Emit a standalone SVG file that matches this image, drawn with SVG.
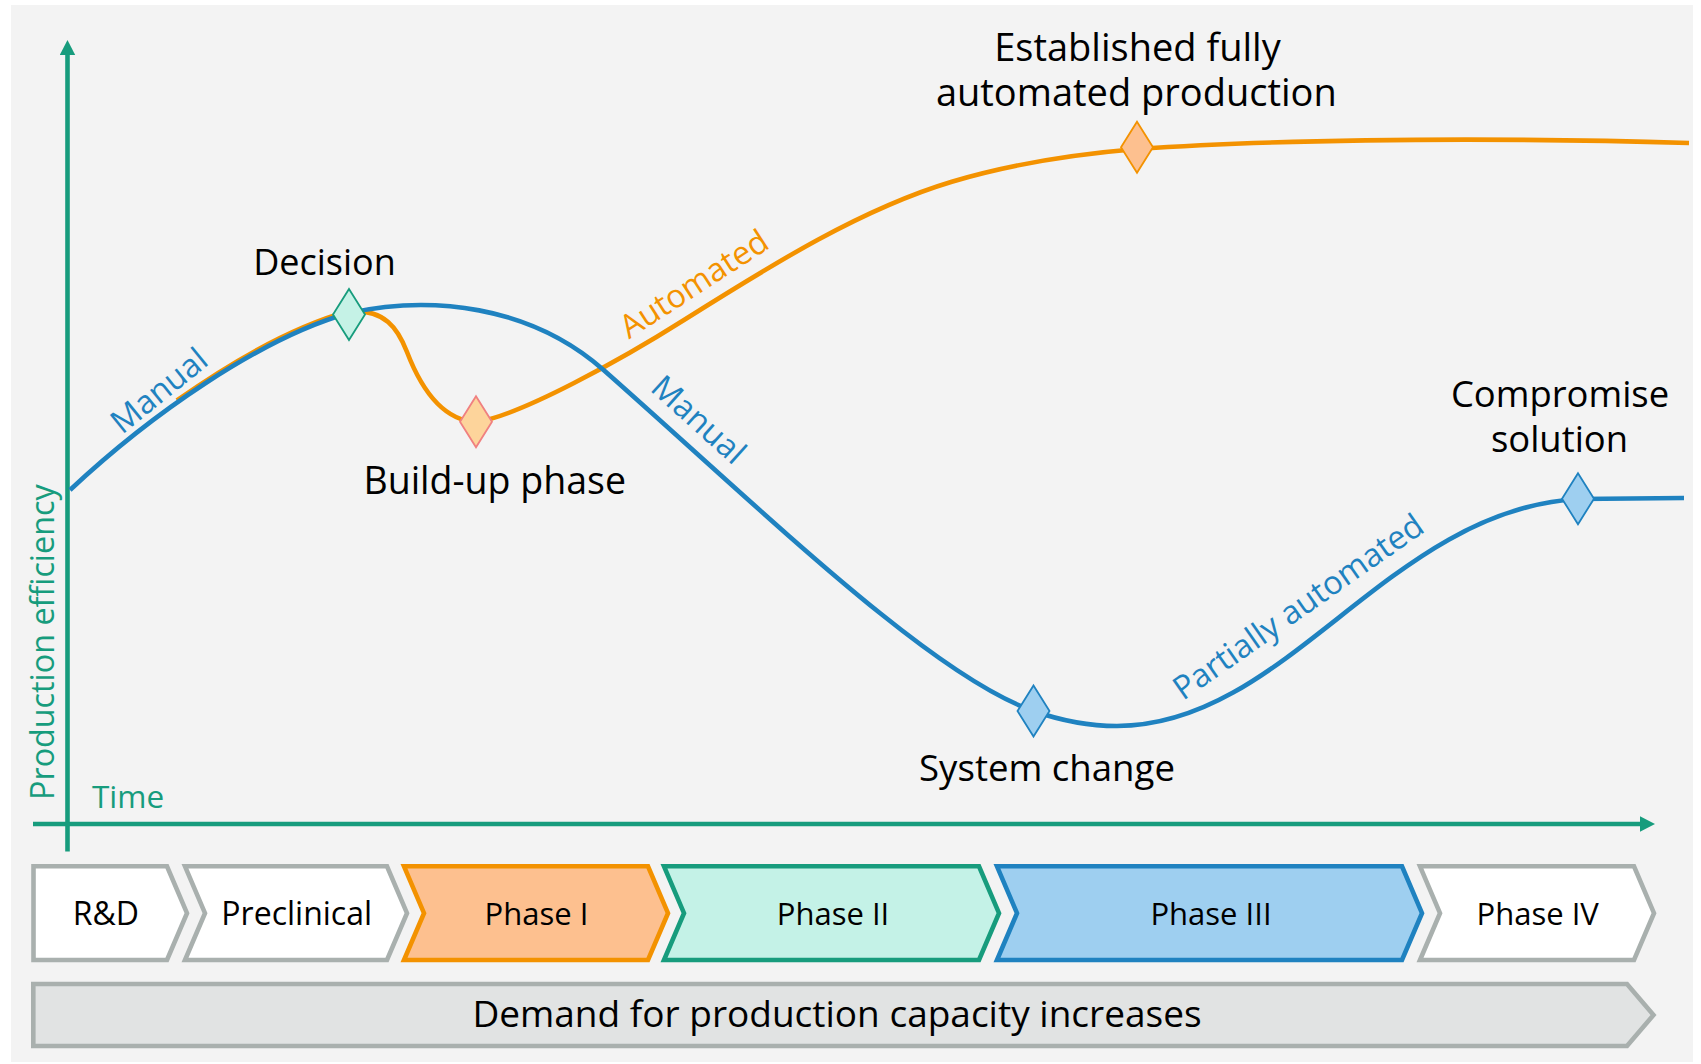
<svg xmlns="http://www.w3.org/2000/svg" xmlns:xlink="http://www.w3.org/1999/xlink" width="1701" height="1064" viewBox="0 0 1701 1064">
  <style>
    text { font-family: "Open Sans", "Noto Sans", "DejaVu Sans", sans-serif; }
    .lbl { font-size: 36px; fill: #000; text-anchor: middle; }
    .phase-lbl { font-size: 31px; fill: #000; text-anchor: middle; }
    .curve-lbl { font-size: 32.5px; }
    .axis { stroke: #179c7d; stroke-width: 4.6; fill: none; }
    .axis-lbl { fill: #179c7d; }
    .blue { stroke: #1f82c0; stroke-width: 4.6; fill: none; }
    .orange { stroke: #f39200; stroke-width: 4.6; fill: none; }
    .chev { stroke-width: 4.6; stroke-linejoin: miter; }
    .grey { fill: #ffffff; stroke: #a9b0ae; }
    .p1 { fill: #fdc08f; stroke: #f39200; }
    .p2 { fill: #c4f2e7; stroke: #179c7d; }
    .p3 { fill: #9ecff0; stroke: #1f82c0; }
    .dia { stroke-width: 1.8; stroke-linejoin: miter; }
  </style>
  <defs>
    <marker id="arrow" markerUnits="userSpaceOnUse" markerWidth="16" markerHeight="16" refX="2" refY="7.7" orient="auto">
      <path d="M0,0 L15,7.7 L0,15.4 Z" fill="#179c7d"/>
    </marker>
    <path id="diamond" d="M0,-25.5 L16,0 L0,25.5 L-16,0 Z"/>
  </defs>

  <!-- canvas -->
  <rect x="0" y="0" width="1701" height="1064" fill="#ffffff"/>
  <rect x="11" y="5" width="1682" height="1057" fill="#f3f3f3"/>

  <!-- axes -->
  <g id="axes">
    <line class="axis" x1="67.5" y1="851.5" x2="67.5" y2="53" marker-end="url(#arrow)"/>
    <line class="axis" x1="33" y1="824" x2="1642" y2="824" marker-end="url(#arrow)"/>
    <text class="axis-lbl" x="92" y="808" style="font-size:31.5px">Time</text>
    <text class="axis-lbl" style="font-size:32.3px" transform="translate(53.5,800) rotate(-90)">Production efficiency</text>
  </g>

  <!-- efficiency curves -->
  <g id="connectors">
    <path id="automated-curve" class="orange" d="M176.9,400.5 C234.6,359.7 295.6,326 349,311
      C385,309 398,328.6 407,352
      C417,378 438,420 476,422
      C520,416 624,358 684,320
      C774,263.3 861.8,208.7 951.8,181.7
      C1011.8,163.7 1077,154 1137,149
      C1250,141 1450,136 1689,143"/>
    <path id="manual-curve" class="blue" d="M70,490 C150,415 260,338 349,313
      C430,295 530,305 603.6,370
      C760,508 930,675 1033.5,711
      C1063.5,721.5 1090,726 1117,726
      C1287,726 1388,510 1578,499
      L1684,498"/>
    <text class="curve-lbl" fill="#1f82c0" transform="translate(122,435) rotate(-39)">Manual</text>
    <text class="curve-lbl" fill="#f39200" transform="translate(629,339.5) rotate(-33)">Automated</text>
    <text class="curve-lbl" fill="#1f82c0" transform="translate(649,390) rotate(42)">Manual</text>
    <text class="curve-lbl" fill="#1f82c0" transform="translate(1183,701) rotate(-35)">Partially automated</text>
  </g>

  <!-- milestones -->
  <g id="decision">
    <use xlink:href="#diamond" x="349" y="314.5" class="dia" fill="#c5f2e6" stroke="#179c7d"/>
    <text class="lbl" x="324.5" y="274.5">Decision</text>
  </g>
  <g id="build-up-phase">
    <use xlink:href="#diamond" x="476" y="421.7" class="dia" fill="#fdd49b" stroke="#f08080"/>
    <text class="lbl" x="494.7" y="493.5" style="font-size:37.5px">Build-up phase</text>
  </g>
  <g id="established-production">
    <use xlink:href="#diamond" x="1137" y="147.2" class="dia" fill="#fdc08f" stroke="#f39200"/>
    <text class="lbl" style="font-size:38px"><tspan x="1137.5" y="61">Established fully</tspan><tspan x="1136.3" y="105.5">automated production</tspan></text>
  </g>
  <g id="system-change">
    <use xlink:href="#diamond" x="1033.5" y="711" class="dia" fill="#9ecff0" stroke="#1f82c0"/>
    <text class="lbl" x="1047" y="781" style="font-size:36.6px">System change</text>
  </g>
  <g id="compromise-solution">
    <use xlink:href="#diamond" x="1578" y="498.7" class="dia" fill="#9ecff0" stroke="#1f82c0"/>
    <text class="lbl" style="font-size:36.4px"><tspan x="1560" y="407">Compromise</tspan><tspan x="1559.5" y="451.5">solution</tspan></text>
  </g>

  <!-- development phases -->
  <g id="phase-rd">
    <polygon class="chev grey" points="33.5,866.3 167,866.3 187,913.2 167,960 33.5,960"/>
    <text class="phase-lbl" x="105.8" y="925" style="font-size:32px">R&amp;D</text>
  </g>
  <g id="phase-preclinical">
    <polygon class="chev grey" points="185,866.3 387,866.3 407,913.2 387,960 185,960 205,913.2"/>
    <text class="phase-lbl" x="296.7" y="925" style="font-size:32px">Preclinical</text>
  </g>
  <g id="phase-1">
    <polygon class="chev p1" points="404,866.3 648,866.3 668,913.2 648,960 404,960 424,913.2"/>
    <text class="phase-lbl" x="536.5" y="925">Phase I</text>
  </g>
  <g id="phase-2">
    <polygon class="chev p2" points="664,866.3 979,866.3 999,913.2 979,960 664,960 684,913.2"/>
    <text class="phase-lbl" x="833" y="925">Phase II</text>
  </g>
  <g id="phase-3">
    <polygon class="chev p3" points="997,866.3 1402,866.3 1422,913.2 1402,960 997,960 1017,913.2"/>
    <text class="phase-lbl" x="1211" y="925">Phase III</text>
  </g>
  <g id="phase-4">
    <polygon class="chev grey" points="1420,866.3 1634,866.3 1654,913.2 1634,960 1420,960 1440,913.2"/>
    <text class="phase-lbl" x="1537.7" y="925">Phase IV</text>
  </g>
  <g id="demand">
    <polygon class="chev" fill="#e1e3e3" stroke="#a9b0ae" points="33.3,984 1627,984 1653.5,1015 1627,1046 33.3,1046"/>
    <text class="lbl" x="837" y="1027" style="font-size:37px">Demand for production capacity increases</text>
  </g>
</svg>
